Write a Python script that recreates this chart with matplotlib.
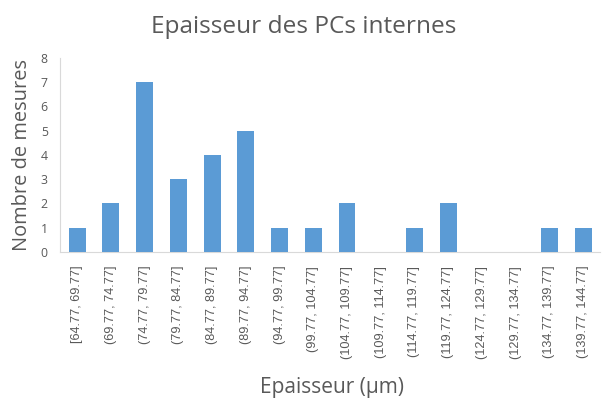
import matplotlib
matplotlib.use("Agg")

import matplotlib.pyplot as plt

# Histogram bins and counts
bins = [
    "[64.77, 69.77]", "(69.77, 74.77]", "(74.77, 79.77]", "(79.77, 84.77]",
    "(84.77, 89.77]", "(89.77, 94.77]", "(94.77, 99.77]", "(99.77, 104.77]",
    "(104.77, 109.77]", "(109.77, 114.77]", "(114.77, 119.77]", "(119.77, 124.77]",
    "(124.77, 129.77]", "(129.77, 134.77]", "(134.77, 139.77]", "(139.77, 144.77]",
]
counts = [1, 2, 7, 3, 4, 5, 1, 1, 2, 0, 1, 2, 0, 0, 1, 1]
y_ticks = list(range(0, 9))

BAR = "#5B9BD5"
TEXT = "#595959"
AXIS = "#D9D9D9"

plt.rcParams["font.family"] = ["Open Sans", "DejaVu Sans"]

fig = plt.figure(figsize=(6.03, 3.98), dpi=100)
ax = fig.add_axes([0.100, 0.367, 0.895, 0.488])

x = range(len(bins))
ax.bar(x, counts, width=0.5, color=BAR, zorder=3)

ax.set_xlim(-0.5, len(bins) - 0.5)
ax.set_ylim(0, 8)
ax.set_yticks(y_ticks)
ax.set_xticks(list(x))
ax.set_xticklabels(bins, rotation=90, fontsize=9.2, color=TEXT,
                   family=["Liberation Sans", "DejaVu Sans"])
ax.tick_params(axis="y", labelsize=8.8, colors=TEXT, length=0, pad=9)
ax.tick_params(axis="x", length=0, pad=10)

for side in ("top", "right"):
    ax.spines[side].set_visible(False)
ax.spines["left"].set_color(AXIS)
ax.spines["bottom"].set_color(AXIS)

fig.text(0.504, 0.917, "Epaisseur des PCs internes", fontsize=17.6,
         color=TEXT, ha="center", va="baseline")
ax.set_ylabel("Nombre de mesures", fontsize=14.4, color=TEXT, labelpad=6)
fig.text(0.55, 0.013, "Epaisseur (µm)", fontsize=15, color=TEXT,
         ha="center", va="baseline")

fig.savefig("out.png", dpi=100, facecolor="white")
plt.close(fig)
